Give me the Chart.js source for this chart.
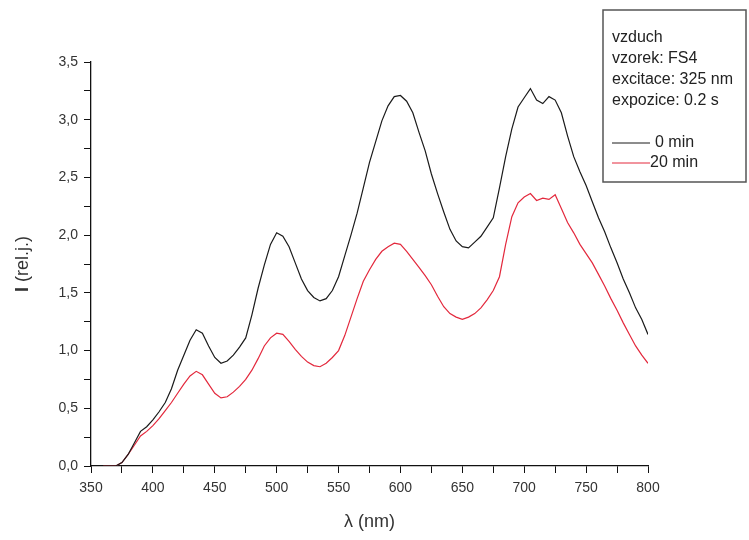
<!DOCTYPE html>
<html>
<head>
<meta charset="utf-8">
<script src="https://cdn.jsdelivr.net/npm/chart.js@4.4.1/dist/chart.umd.min.js"></script>
<style>
  html, body { margin: 0; padding: 0; background: #fff; }
</style>
</head>
<body>
<canvas id="spectrumChart" width="749" height="540"></canvas>
<script>
// wavelength (nm)
const wavelengths = [
  360, 365, 370, 375, 380, 385, 390, 395, 400, 405, 410, 415, 420, 425, 430, 435, 440, 445, 450, 455,
  460, 465, 470, 475, 480, 485, 490, 495, 500, 505, 510, 515, 520, 525, 530, 535, 540, 545, 550, 555,
  560, 565, 570, 575, 580, 585, 590, 595, 600, 605, 610, 615, 620, 625, 630, 635, 640, 645, 650, 655,
  660, 665, 670, 675, 680, 685, 690, 695, 700, 705, 710, 715, 720, 725, 730, 735, 740, 745, 750, 755,
  760, 765, 770, 775, 780, 785, 790, 795, 800
];

// intensity, 0 min
const intensity0 = [
  0, 0, 0, 0.03, 0.10, 0.20, 0.30, 0.34, 0.40, 0.47, 0.55, 0.67, 0.83, 0.96, 1.09, 1.18, 1.15, 1.04, 0.94, 0.89,
  0.91, 0.96, 1.03, 1.11, 1.31, 1.54, 1.74, 1.92, 2.02, 1.99, 1.90, 1.76, 1.62, 1.52, 1.46, 1.43, 1.45, 1.52, 1.64, 1.82,
  2.00, 2.19, 2.41, 2.63, 2.81, 2.99, 3.12, 3.20, 3.21, 3.16, 3.06, 2.89, 2.73, 2.53, 2.36, 2.20, 2.05, 1.95, 1.90, 1.89,
  1.94, 1.99, 2.07, 2.15, 2.41, 2.68, 2.92, 3.11, 3.19, 3.27, 3.17, 3.14, 3.20, 3.17, 3.06, 2.86, 2.68, 2.55, 2.43, 2.29,
  2.15, 2.03, 1.89, 1.76, 1.62, 1.50, 1.37, 1.27, 1.14
];

// intensity, 20 min
const intensity20 = [
  0, 0, 0, 0.03, 0.10, 0.18, 0.26, 0.30, 0.35, 0.41, 0.48, 0.55, 0.63, 0.71, 0.78, 0.82, 0.79, 0.71, 0.63, 0.59,
  0.60, 0.64, 0.69, 0.75, 0.83, 0.93, 1.04, 1.11, 1.15, 1.14, 1.08, 1.01, 0.95, 0.90, 0.87, 0.86, 0.89, 0.94, 1.00, 1.13,
  1.29, 1.45, 1.60, 1.70, 1.79, 1.86, 1.90, 1.93, 1.92, 1.86, 1.79, 1.72, 1.65, 1.57, 1.47, 1.38, 1.32, 1.29, 1.27, 1.29,
  1.32, 1.37, 1.44, 1.52, 1.64, 1.92, 2.16, 2.28, 2.33, 2.36, 2.30, 2.32, 2.31, 2.35, 2.23, 2.11, 2.02, 1.92, 1.84, 1.76,
  1.66, 1.56, 1.45, 1.35, 1.24, 1.14, 1.04, 0.96, 0.89
];

const seriesNames = ['0 min', '20 min'];
const infoLines = ['vzduch', 'vzorek: FS4', 'excitace: 325 nm', 'expozice: 0.2 s'];

const FONT = 'Arial, "Liberation Sans", sans-serif';

// text box in the top right corner
const infoBox = {
  id: 'infoBox',
  afterDraw(chart) {
    const c = chart.ctx;
    c.save();
    c.fillStyle = '#fff';
    c.fillRect(603, 10, 143, 172);
    c.strokeStyle = '#555';
    c.lineWidth = 1.5;
    c.strokeRect(603, 10, 143, 172);
    c.fillStyle = '#222';
    c.font = '16px ' + FONT;
    c.textBaseline = 'middle';
    infoLines.forEach((t, i) => c.fillText(t, 612, 38 + i * 21));
    chart.data.datasets.forEach((ds, i) => {
      const y = 143 + i * 20;
      c.strokeStyle = ds.borderColor;
      c.lineWidth = 1;
      c.beginPath();
      c.moveTo(612, y);
      c.lineTo(650, y);
      c.stroke();
      c.fillText(ds.label, i === 0 ? 655 : 650, y);
    });
    c.restore();
  }
};

// y axis title with bold "I"
const yTitle = {
  id: 'yTitle',
  afterDraw(chart) {
    const c = chart.ctx;
    const area = chart.chartArea;
    c.save();
    c.translate(23, (area.top + area.bottom) / 2);
    c.rotate(-Math.PI / 2);
    c.fillStyle = '#333';
    c.textBaseline = 'middle';
    c.font = 'bold 18px ' + FONT;
    const first = 'I';
    const rest = ' (rel.j.)';
    const w1 = c.measureText(first).width;
    c.font = '18px ' + FONT;
    const w2 = c.measureText(rest).width;
    let x = -(w1 + w2) / 2;
    c.font = 'bold 18px ' + FONT;
    c.fillText(first, x, 0);
    c.font = '18px ' + FONT;
    c.fillText(rest, x + w1, 0);
    c.restore();
  }
};

const ctx = document.getElementById('spectrumChart').getContext('2d');

new Chart(ctx, {
  type: 'line',
  data: {
    datasets: [
      {
        label: seriesNames[0],
        data: wavelengths.map((w, i) => ({ x: w, y: intensity0[i] })),
        borderColor: '#1a1a1a',
        borderWidth: 1.2,
        pointRadius: 0
      },
      {
        label: seriesNames[1],
        data: wavelengths.map((w, i) => ({ x: w, y: intensity20[i] })),
        borderColor: '#e3283c',
        borderWidth: 1.2,
        pointRadius: 0
      }
    ]
  },
  options: {
    responsive: false,
    animation: false,
    layout: { padding: { top: 62, right: 101, left: 0, bottom: 0 } },
    plugins: {
      legend: { display: false },
      tooltip: { enabled: false }
    },
    scales: {
      x: {
        type: 'linear',
        min: 350,
        max: 800,
        afterFit(scale) { scale.height = 74; },
        border: { display: true, color: '#111', width: 1.3 },
        grid: { drawOnChartArea: false, drawTicks: true, tickLength: 7, color: '#111' },
        ticks: {
          stepSize: 25,
          padding: 7,
          color: '#333',
          font: { family: FONT, size: 14 },
          maxRotation: 0,
          autoSkip: false,
          callback: v => (v % 50 === 0 ? String(v) : '')
        },
        title: {
          display: true,
          text: 'λ (nm)',
          color: '#333',
          font: { family: FONT, size: 18 },
          padding: { top: 0, bottom: 7 }
        }
      },
      y: {
        min: 0,
        max: 3.5,
        afterFit(scale) { scale.width = 91; },
        border: { display: true, color: '#111', width: 1.3 },
        grid: { drawOnChartArea: false, drawTicks: true, tickLength: 7, color: '#111' },
        ticks: {
          stepSize: 0.25,
          padding: 6,
          color: '#333',
          font: { family: FONT, size: 14 },
          autoSkip: false,
          callback: v => (Math.abs(v * 2 - Math.round(v * 2)) < 1e-9 ? v.toFixed(1).replace('.', ',') : '')
        }
      }
    }
  },
  plugins: [infoBox, yTitle]
});
</script>
</body>
</html>
